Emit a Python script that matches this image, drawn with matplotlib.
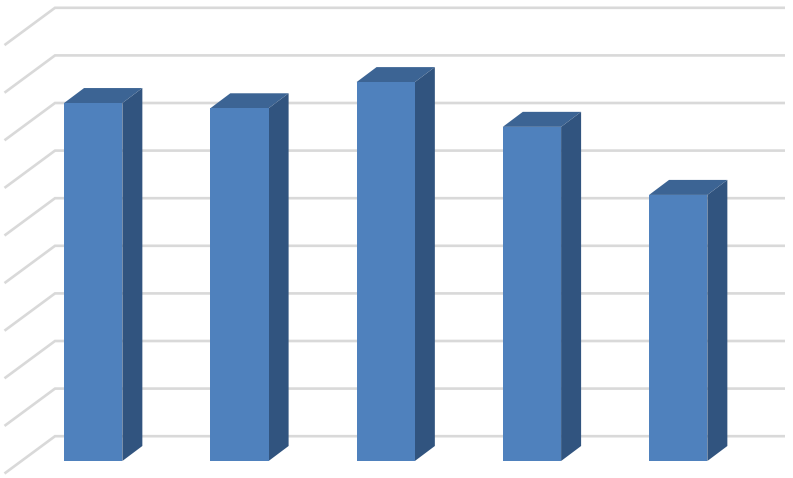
import matplotlib
matplotlib.use("Agg")
import matplotlib.pyplot as plt
from matplotlib.patches import Polygon

categories = [0, 1, 2, 3, 4]
values = [7.52, 7.41, 7.96, 7.02, 5.59]
grid_levels = [0, 1, 2, 3, 4, 5, 6, 7, 8, 9]

W, H = 793, 478
PX_PER_CAT = 146.25
PX_PER_UNIT = 47.6
X0_PX = 93.2      # centre of first bar front face
Y0_PX = 461.0     # baseline of bar front face


def dx(px):
    return px / PX_PER_CAT


def dy(px):
    return px / PX_PER_UNIT


fig = plt.figure(figsize=(W / 100, H / 100), dpi=100)
ax = fig.add_axes([0, 0, 1, 1])
ax.set_xlim(-X0_PX / PX_PER_CAT, (W - X0_PX) / PX_PER_CAT)
ax.set_ylim(-(H - Y0_PX) / PX_PER_UNIT, Y0_PX / PX_PER_UNIT)
ax.axis("off")

# wall and floor gridlines
grid_color = "#d9d9d9"
left_front = dx(4.5 - X0_PX)
left_back = dx(55 - X0_PX)
right_back = dx(785 - X0_PX)
back_off = dy(Y0_PX - 436.2)
front_off = dy(Y0_PX - 473.5)
for k in grid_levels:
    ax.plot([left_front, left_back, right_back],
            [k + front_off, k + back_off, k + back_off],
            color=grid_color, lw=1.9, solid_joinstyle="miter",
            solid_capstyle="butt", zorder=1)

# bars
bar_w = dx(58.3)
depth_x = dx(20)
depth_y = dy(15)
front = "#4f81bd"
top = "#3c6494"
side = "#31547f"
ax.bar(categories, values, width=bar_w, bottom=0, color=front, lw=0, zorder=4)
for c, v in zip(categories, values):
    l, r = c - bar_w / 2, c + bar_w / 2
    ax.add_patch(Polygon([(l, v), (r, v), (r + depth_x, v + depth_y), (l + depth_x, v + depth_y)],
                         closed=True, fc=top, ec="none", zorder=3))
    ax.add_patch(Polygon([(r, 0), (r + depth_x, depth_y), (r + depth_x, v + depth_y), (r, v)],
                         closed=True, fc=side, ec="none", zorder=3))

fig.savefig("out.png", dpi=100, facecolor="white")
